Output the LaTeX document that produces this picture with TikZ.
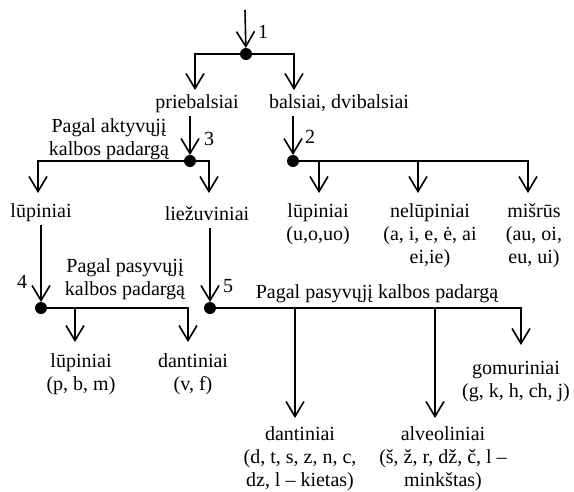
\documentclass[tikz,border=0pt]{standalone}
\usepackage{fontspec}
\setmainfont{Liberation Serif}
\usetikzlibrary{arrows.meta}
\begin{document}
\begin{tikzpicture}[x=1pt,y=-1pt,
  every node/.style={font=\fontsize{20}{23}\selectfont, inner sep=0pt, outer sep=0pt},
  lbl/.style={text height=14pt, text depth=5pt, inner sep=3pt, anchor=base},
  blk/.style={align=center, anchor=north},
  num/.style={anchor=base},
  dot/.style={circle, fill=black, minimum size=12pt, inner sep=0pt},
  arr/.style={-{Straight Barb[length=15pt,width=18pt]}},
  line width=1.6pt]
\useasboundingbox (0,0) rectangle (574,491);

% dots
\node[dot] (d1) at (246,54) {};
\node[dot] (d3) at (190,161) {};
\node[dot] (d2) at (293,161) {};
\node[dot] (d4) at (41,308) {};
\node[dot] (d5) at (210,308) {};

% numbers
\node[num] (n1) at (263,38) {1};
\node[num] (n2) at (310,143) {2};
\node[num] (n3) at (209,145) {3};
\node[num] (n4) at (22,288) {4};
\node[num] (n5) at (228,292) {5};

% single-line labels
\node[lbl] (pr) at (197,108) {priebalsiai};
\node[lbl] (bal) at (339,108) {balsiai, dvibalsiai};
\node[lbl] (lup1) at (41,217) {lūpiniai};
\node[lbl] (liez) at (207,220) {liežuviniai};
\node[lbl] (pas5) at (377,298) {Pagal pasyvųjį kalbos padargą};

% multi-line labels
\node[blk] (akt) at (109,118.4) {Pagal aktyvųjį\\kalbos padargą};
\node[blk] (lup2) at (318,203.4) {lūpiniai\\(u,o,uo)};
\node[blk] (nelup) at (430,203.4) {nelūpiniai\\(a, i, e, ė, ai\\ei,ie)};
\node[blk] (misr) at (534,203.4) {mišrūs\\(au, oi,\\eu, ui)};
\node[blk] (pas4) at (125,258.4) {Pagal pasyvųjį\\kalbos padargą};
\node[blk] (lup3) at (81,353.4) {lūpiniai\\(p, b, m)};
\node[blk] (dant1) at (193,353.4) {dantiniai\\(v, f)};
\node[blk] (gom) at (516,361.4) {gomuriniai\\(g, k, h, ch, j)};
\node[blk] (dant2) at (300,426.4) {dantiniai\\(d, t, s, z, n, c,\\dz, l -- kietas)};
\node[blk] (alv) at (443,426.4) {alveoliniai\\(š, ž, r, dž, č, l --\\minkštas)};

% arrow tips / free ends
\coordinate (top) at (245,10);
\coordinate (tpr) at (195,90);
\coordinate (tbal) at (294,90);
\coordinate (tlup1) at (38,193);
\coordinate (tliez) at (209,193);
\coordinate (tlup2) at (319,193);
\coordinate (tnelup) at (418,193);
\coordinate (tmisr) at (528,193);
\coordinate (tlup3) at (75,342);
\coordinate (tdant1) at (188,342);
\coordinate (tdant2) at (295,418);
\coordinate (talv) at (435,418);
\coordinate (tgom) at (521,345);

% connectors
\draw[arr] (top) -- (d1);
\draw[arr] (d1) -| (tpr);
\draw[arr] (d1) -| (tbal);
\draw[arr] (pr.south -| d3) -- (d3);
\draw[arr] (bal.south -| d2) -- (d2);
\draw[arr] (d3) -| (tlup1);
\draw[arr] (d3) -| (tliez);
\draw[arr] (d2) -| (tlup2);
\draw[arr] (d2) -| (tnelup);
\draw[arr] (d2) -| (tmisr);
\draw[arr] (lup1.south -| d4) -- (d4);
\draw[arr] (liez.south -| d5) -- (d5);
\draw[arr] (d4) -| (tlup3);
\draw[arr] (d4) -| (tdant1);
\draw[arr] (d5) -| (tdant2);
\draw[arr] (d5) -| (talv);
\draw[arr] (d5) -| (tgom);
\end{tikzpicture}
\end{document}
